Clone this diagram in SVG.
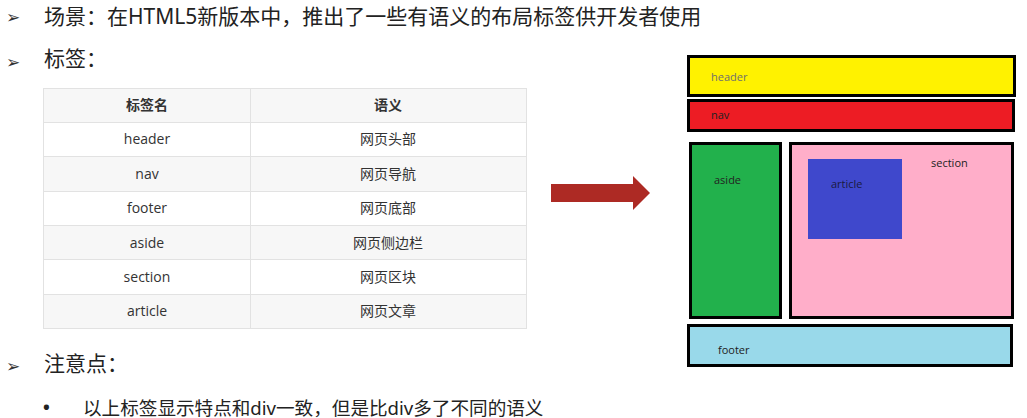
<svg xmlns="http://www.w3.org/2000/svg" width="1027" height="418" viewBox="0 0 1027 418">
<style>
.t{font-family:"Noto Sans","Noto Sans CJK SC",sans-serif;fill:#222}
.bl{font-family:"DejaVu Sans",sans-serif;fill:#333;font-size:17px}
.tc{font-family:"Open Sans","Noto Sans CJK SC",sans-serif;font-size:14px;fill:#333;text-anchor:middle}
.th{font-weight:bold}
.cell{stroke:#e2e2e2;stroke-width:1}
.box{stroke:#000;stroke-width:3}
.lb{font-family:"Open Sans","Liberation Sans",sans-serif;font-size:11px;fill:#222}
</style>
<rect width="1027" height="418" fill="#fff"/>
<g id="text">
<text class="bl" x="6" y="23">➢</text>
<text class="t" x="44" y="24" font-size="21">场景：在HTML5新版本中，推出了一些有语义的布局标签供开发者使用</text>
<text class="bl" x="6" y="68">➢</text>
<text class="t" x="44" y="66" font-size="21">标签：</text>
<text class="bl" x="6" y="372">➢</text>
<text class="t" x="44" y="371" font-size="21">注意点：</text>
<text class="t" x="43" y="414" font-size="18" font-weight="bold">•</text>
<text class="t" x="83" y="415" font-size="18.6">以上标签显示特点和div一致，但是比div多了不同的语义</text>
</g>
<g id="table">
<rect class="cell" x="43.5" y="88.5" width="483" height="34" fill="#f7f7f7"/>
<rect class="cell" x="43.5" y="122.5" width="483" height="34" fill="#fff"/>
<rect class="cell" x="43.5" y="156.5" width="483" height="35" fill="#f7f7f7"/>
<rect class="cell" x="43.5" y="191.5" width="483" height="34" fill="#fff"/>
<rect class="cell" x="43.5" y="225.5" width="483" height="34" fill="#f7f7f7"/>
<rect class="cell" x="43.5" y="259.5" width="483" height="35" fill="#fff"/>
<rect class="cell" x="43.5" y="294.5" width="483" height="34" fill="#f7f7f7"/>
<line class="cell" x1="250.5" y1="88" x2="250.5" y2="329"/>
<text class="tc th" x="147" y="110">标签名</text>
<text class="tc th" x="388" y="110">语义</text>
<text class="tc" x="147" y="144">header</text>
<text class="tc" x="388" y="144">网页头部</text>
<text class="tc" x="147" y="179">nav</text>
<text class="tc" x="388" y="179">网页导航</text>
<text class="tc" x="147" y="213">footer</text>
<text class="tc" x="388" y="213">网页底部</text>
<text class="tc" x="147" y="248">aside</text>
<text class="tc" x="388" y="248">网页侧边栏</text>
<text class="tc" x="147" y="282">section</text>
<text class="tc" x="388" y="282">网页区块</text>
<text class="tc" x="147" y="316">article</text>
<text class="tc" x="388" y="316">网页文章</text>
</g>
<g id="connectors">
<polygon points="551,184 633,184 633,176 650,193 633,210 633,202 551,202" fill="#ad2a24"/>
</g>
<g id="header"><rect class="box" x="688.5" y="56.5" width="326" height="39" fill="#fff200"/><text class="lb" x="711" y="81" style="fill:#6f6f6f">header</text></g>
<g id="nav"><rect class="box" x="688.5" y="100.5" width="325" height="30" fill="#ed1c24"/><text class="lb" x="711" y="119">nav</text></g>
<g id="aside"><rect class="box" x="690.5" y="143.5" width="90" height="174" fill="#22b14c"/><text class="lb" x="714" y="184">aside</text></g>
<g id="section"><rect class="box" x="790.5" y="143.5" width="222" height="174" fill="#ffaec9"/><text class="lb" x="931" y="167">section</text></g>
<g id="article"><rect x="808" y="159" width="94" height="80" fill="#3f48cc"/><text class="lb" x="831" y="188" style="fill:#1a1a40">article</text></g>
<g id="footer"><rect class="box" x="688.5" y="325.5" width="323" height="40" fill="#99d9ea"/><text class="lb" x="718" y="354">footer</text></g>
</svg>
